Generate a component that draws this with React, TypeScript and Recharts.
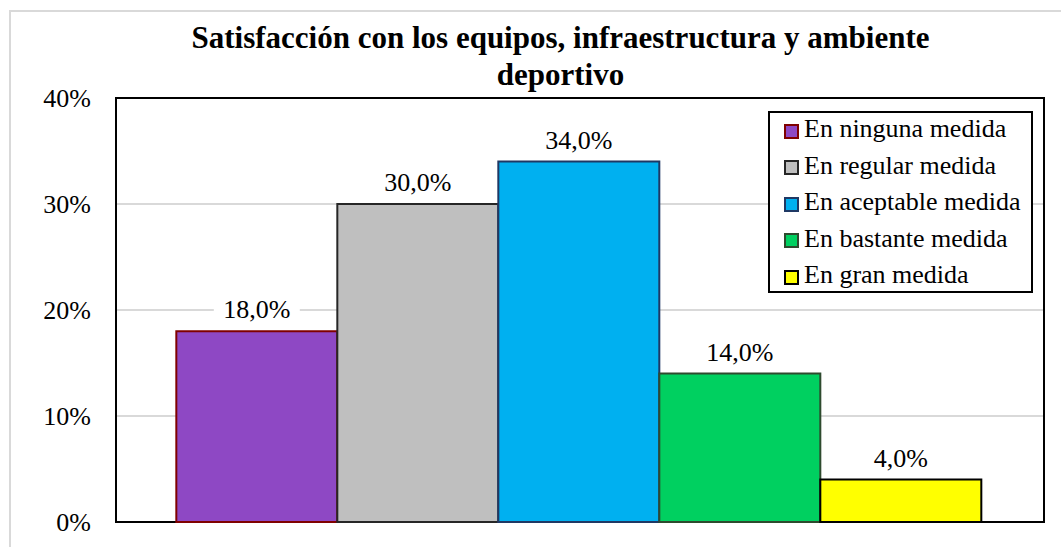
import React from "react"
import {
  BarChart,
  Bar,
  XAxis,
  YAxis,
  CartesianGrid,
  LabelList,
  Legend,
  ReferenceArea,
} from "recharts"

// ============ Data ============
const categories = [
  "En ninguna medida",
  "En regular medida",
  "En aceptable medida",
  "En bastante medida",
  "En gran medida",
]
const values = [18, 30, 34, 14, 4]
const fills = ["#8E48C4", "#BFBFBF", "#00B0F0", "#00D060", "#FFFF00"]
const strokes = ["#7F0000", "#262626", "#1F3864", "#2E4A2E", "#000000"]
const majorTicks = [0, 10, 20, 30, 40]
const minorTicks = [0, 2, 4, 6, 8, 10, 12, 14, 16, 18, 20, 22, 24, 26, 28, 30, 32, 34, 36, 38, 40]
const title = ["Satisfacción con los equipos, infraestructura y ambiente", "deportivo"]

const FONT = "Liberation Serif"

const row: Record<string, any> = { group: "" }
categories.forEach((c, i) => {
  row["s" + i] = values[i]
})
const data = [row]

const fmt = (v: number) => v.toFixed(1).replace(".", ",") + "%"

// ============ Pieces ============
const ValueLabel = (props: any) => {
  const { x, y, width, value } = props
  const cx = x + width / 2
  return (
    <g>
      <rect x={cx - 43} y={y - 38} width={86} height={30} fill="#fff" />
      <text
        x={cx}
        y={y - 13}
        textAnchor="middle"
        style={{ fontFamily: FONT, fontSize: 26 }}
        fill="#000"
      >
        {fmt(value)}
      </text>
    </g>
  )
}

const LegendBox = () => (
  <div
    style={{
      boxSizing: "border-box",
      width: 265,
      height: 182,
      border: "2px solid #000",
      background: "#fff",
      padding: "0 0 0 14px",
      fontFamily: FONT,
      fontSize: 26,
      color: "#000",
    }}
  >
    <div style={{ marginTop: -2 }}>
      {categories.map((c, i) => (
        <div
          key={c}
          style={{ display: "flex", alignItems: "center", height: 36.5, whiteSpace: "nowrap" }}
        >
          <span
            style={{
              boxSizing: "border-box",
              width: 15,
              height: 15,
              background: fills[i],
              border: `2px solid ${strokes[i]}`,
              marginRight: 5,
              position: "relative",
              top: 2,
              flexShrink: 0,
            }}
          />
          <span>{c}</span>
        </div>
      ))}
    </div>
  </div>
)

export default function App() {
  return (
    <div
      style={{
        position: "absolute",
        left: 0,
        top: 0,
        width: 1061,
        height: 547,
        background: "#fff",
        overflow: "hidden",
        fontFamily: FONT,
      }}
    >
      {/* outer chart frame */}
      <div
        style={{
          position: "absolute",
          left: 9,
          top: 10,
          width: 1100,
          height: 600,
          borderTop: "2px solid #d9d9d9",
          borderLeft: "2px solid #d9d9d9",
        }}
      />
      <div
        style={{
          position: "absolute",
          left: 0,
          top: 19,
          width: 1121,
          textAlign: "center",
          fontFamily: FONT,
          fontWeight: "bold",
          fontSize: 31,
          lineHeight: "37px",
          color: "#000",
        }}
      >
        {title[0]}
        <br />
        {title[1]}
      </div>
      <BarChart
        width={1061}
        height={547}
        data={data}
        margin={{ top: 98, right: 17, bottom: 25, left: 56 }}
        barCategoryGap="6.5%"
        barGap={0}
        style={{ position: "absolute", left: 0, top: 0, fontFamily: FONT }}
      >
        <CartesianGrid
          yAxisId="left"
          vertical={false}
          stroke="#d9d9d9"
          strokeWidth={2}
        />
        <XAxis
          dataKey="group"
          tick={false}
          tickLine={false}
          height={0}
          axisLine={{ stroke: "#000", strokeWidth: 2 }}
        />
        <YAxis
          yAxisId="left"
          domain={[0, 40]}
          ticks={majorTicks}
          tickFormatter={(v) => v + "%"}
          tickLine={false}
          tickSize={0}
          tickMargin={25}
          width={60}
          axisLine={{ stroke: "#000", strokeWidth: 2 }}
          tick={{ fontSize: 26, fill: "#000", fontFamily: FONT }}
          interval={0}
        />
        <YAxis
          yAxisId="minor"
          domain={[0, 40]}
          ticks={minorTicks}
          mirror
          tick={false}
          tickSize={6}
          width={0}
          axisLine={false}
          tickLine={{ stroke: "#000", strokeWidth: 2 }}
          interval={0}
        />
        {categories.map((c, i) => (
          <Bar
            key={c}
            yAxisId="left"
            dataKey={"s" + i}
            name={c}
            fill={fills[i]}
            stroke={strokes[i]}
            strokeWidth={2}
            isAnimationActive={false}
          >
            <LabelList dataKey={"s" + i} content={<ValueLabel />} />
          </Bar>
        ))}
        <ReferenceArea
          yAxisId="left"
          y1={0}
          y2={40}
          fill="none"
          stroke="#000"
          strokeWidth={2}
          ifOverflow="visible"
        />
        <Legend
          layout="vertical"
          align="center"
          verticalAlign="middle"
          content={<LegendBox />}
          wrapperStyle={{ left: 768, top: 111, width: 265, height: 182 }}
        />
      </BarChart>
    </div>
  )
}
